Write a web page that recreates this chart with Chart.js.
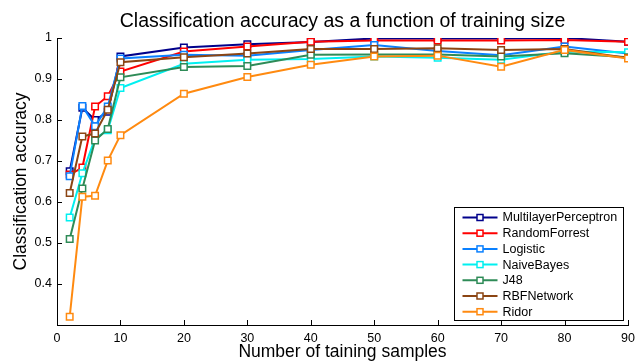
<html lang="en">
  <head>
    <meta charset="utf-8">
    <title>Classification accuracy as a function of training size</title>
    <style>
      body { margin: 0; background: white; }
      .chartBox { width: 641px; height: 364px; }
    </style>
  </head>
  <body>
    <div class="chartBox">
      <canvas id="myChart" width="641" height="364"></canvas>
    </div>

    <script src="https://cdn.jsdelivr.net/npm/chart.js/dist/chart.umd.min.js"></script>
    <script>
    // data
    const samples = [2, 4, 6, 8, 10, 20, 30, 40, 50, 60, 70, 80, 90];
    const names = ['MultilayerPerceptron', 'RandomForrest', 'Logistic', 'NaiveBayes', 'J48', 'RBFNetwork', 'Ridor'];
    const mlp      = [0.675, 0.830, 0.800, 0.820, 0.955, 0.977, 0.985, 0.990, 0.999, 0.999, 0.999, 1.000, 0.991];
    const rforest  = [0.667, 0.684, 0.833, 0.858, 0.918, 0.967, 0.979, 0.991, 0.994, 0.994, 0.994, 0.995, 0.991];
    const logistic = [0.663, 0.834, 0.785, 0.833, 0.950, 0.959, 0.957, 0.971, 0.983, 0.968, 0.958, 0.979, 0.962];
    const naive    = [0.562, 0.670, 0.755, 0.775, 0.878, 0.937, 0.947, 0.949, 0.955, 0.952, 0.947, 0.967, 0.965];
    const j48      = [0.510, 0.633, 0.750, 0.778, 0.904, 0.929, 0.932, 0.959, 0.960, 0.960, 0.955, 0.963, 0.953];
    const rbf      = [0.622, 0.760, 0.767, 0.825, 0.941, 0.953, 0.962, 0.973, 0.973, 0.975, 0.971, 0.973, 0.951];
    const ridor    = [0.320, 0.613, 0.615, 0.701, 0.763, 0.864, 0.905, 0.935, 0.955, 0.957, 0.930, 0.971, 0.950];
    const yTicks = [0.4, 0.5, 0.6, 0.7, 0.8, 0.9, 1];
    const colors = ['#00008b', '#ff0000', '#0a80ff', '#00f0f0', '#2e8b57', '#8b4513', '#ff8a10'];

    const series = [mlp, rforest, logistic, naive, j48, rbf, ridor];
    const FONT = '"Liberation Sans", Arial, Helvetica, sans-serif';

    // setup
    const data = {
      datasets: series.map((vals, i) => ({
        label: names[i],
        data: samples.map((x, k) => ({x: x, y: vals[k]})),
        borderColor: colors[i],
        backgroundColor: 'white',
        borderWidth: 2,
        pointStyle: 'rect',
        pointRadius: 4.6,
        pointBorderWidth: 1.5,
        pointBackgroundColor: 'white',
        pointBorderColor: colors[i],
        order: series.length - i
      }))
    };

    // title on plot centre, inward ticks, matlab style legend
    const matlabBits = {
      id: 'matlabBits',
      afterDraw(chart) {
        const {ctx, chartArea, scales} = chart;
        ctx.save();
        // title
        ctx.fillStyle = '#000';
        ctx.font = '19.5px ' + FONT;
        ctx.textAlign = 'center';
        ctx.textBaseline = 'alphabetic';
        ctx.fillText('Classification accuracy as a function of training size', (chartArea.left + chartArea.right) / 2, 26.5);

        // inward ticks
        ctx.strokeStyle = '#000';
        ctx.lineWidth = 1;
        ctx.beginPath();
        scales.x.ticks.forEach(t => {
          const px = Math.round(scales.x.getPixelForValue(t.value)) + 0.5;
          ctx.moveTo(px, chartArea.bottom);
          ctx.lineTo(px, chartArea.bottom - 5);
        });
        scales.y.ticks.forEach(t => {
          const py = Math.round(scales.y.getPixelForValue(t.value)) + 0.5;
          ctx.moveTo(chartArea.left, py);
          ctx.lineTo(chartArea.left + 5, py);
        });
        ctx.stroke();

        // legend box
        const w = 169, h = 113;
        const bx = chartArea.right - 5 - w + 0.5;
        const by = chartArea.bottom - 5 - h + 0.5;
        ctx.fillStyle = 'white';
        ctx.fillRect(bx, by, w, h);
        ctx.strokeRect(bx, by, w, h);
        ctx.font = '12.5px ' + FONT;
        ctx.textAlign = 'left';
        ctx.textBaseline = 'middle';
        chart.data.datasets.forEach((ds, i) => {
          const ry = by + 10 + i * 15.7;
          ctx.strokeStyle = ds.borderColor;
          ctx.lineWidth = 2;
          ctx.beginPath();
          ctx.moveTo(bx + 8, ry);
          ctx.lineTo(bx + 43, ry);
          ctx.stroke();
          ctx.fillStyle = 'white';
          ctx.fillRect(bx + 22.5, ry - 3, 6, 6);
          ctx.lineWidth = 1.5;
          ctx.strokeRect(bx + 22.5, ry - 3, 6, 6);
          ctx.fillStyle = '#000';
          ctx.fillText(ds.label, bx + 48, ry + 0.5);
        });
        ctx.restore();
      }
    };

    // config
    const config = {
      type: 'line',
      data,
      options: {
        responsive: false,
        animation: false,
        layout: { padding: { left: 0, right: 13, top: 38, bottom: 0 } },
        plugins: {
          legend: { display: false },
          title: { display: false },
          tooltip: { enabled: false }
        },
        scales: {
          x: {
            type: 'linear',
            min: 0,
            max: 90,
            ticks: { stepSize: 10, color: '#000', padding: 6, font: { family: FONT, size: 12.5 }, maxRotation: 0 },
            grid: { display: true, drawOnChartArea: false, drawTicks: false },
            border: { display: true, color: '#000', width: 1 },
            title: { display: true, text: 'Number of taining samples', color: '#000', font: { family: FONT, size: 17.5 }, padding: { top: 0, bottom: 1 } },
            afterFit(scale) { scale.height = 39; }
          },
          y: {
            min: 0.3,
            max: 1,
            afterBuildTicks(scale) { scale.ticks = yTicks.map(v => ({value: v})); },
            ticks: { color: '#000', padding: 5, font: { family: FONT, size: 12.5 }, callback: v => String(Math.round(v * 10) / 10) },
            grid: { display: true, drawOnChartArea: false, drawTicks: false },
            border: { display: true, color: '#000', width: 1 },
            title: { display: true, text: 'Classification accuracy', color: '#000', font: { family: FONT, size: 17.5 }, padding: { top: 10.5, bottom: 0 } },
            afterFit(scale) { scale.width = 57; }
          }
        }
      },
      plugins: [matlabBits]
    };

    // render init block
    const myChart = new Chart(document.getElementById('myChart'), config);
    </script>
  </body>
</html>
